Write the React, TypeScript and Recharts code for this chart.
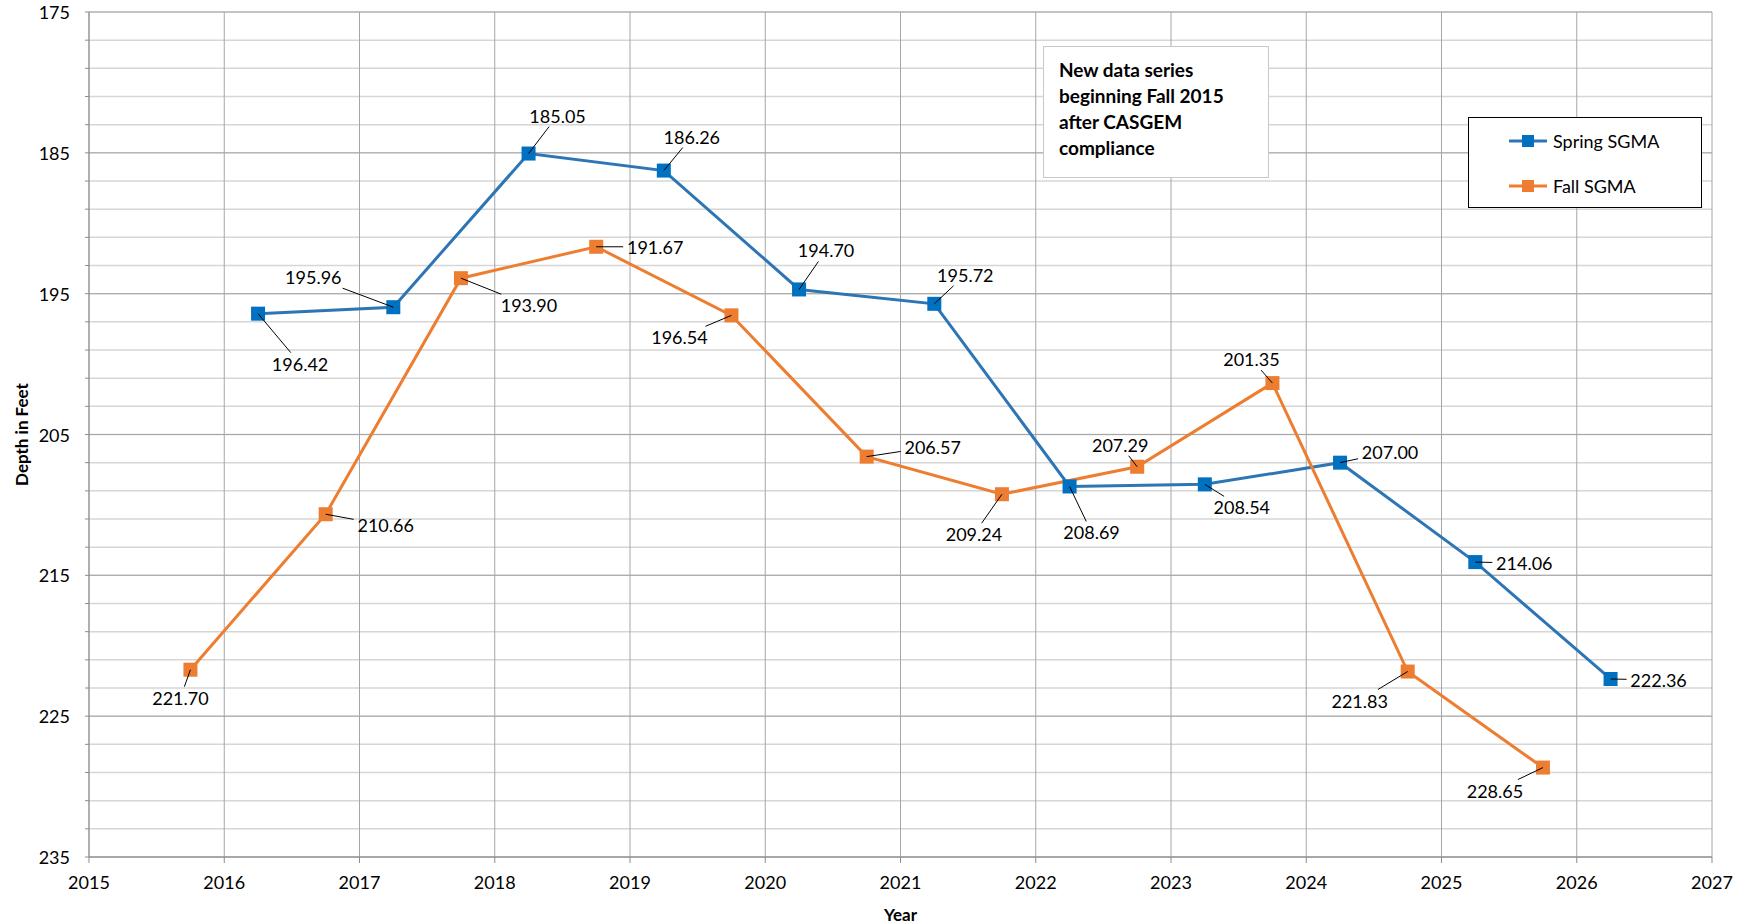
import {
  LineChart,
  Line,
  XAxis,
  YAxis,
  CartesianGrid,
  LabelList,
  Label,
} from 'recharts';

const springYears = [2016.25, 2017.25, 2018.25, 2019.25, 2020.25, 2021.25, 2022.25, 2023.25, 2024.25, 2025.25, 2026.25];
const springDepth = [196.42, 195.96, 185.05, 186.26, 194.7, 195.72, 208.69, 208.54, 207.0, 214.06, 222.36];

const fallYears = [2015.75, 2016.75, 2017.75, 2018.75, 2019.75, 2020.75, 2021.75, 2022.75, 2023.75, 2024.75, 2025.75];
const fallDepth = [221.7, 210.66, 193.9, 191.67, 196.54, 206.57, 209.24, 207.29, 201.35, 221.83, 228.65];

const yearTicks = [2015, 2016, 2017, 2018, 2019, 2020, 2021, 2022, 2023, 2024, 2025, 2026, 2027];
const depthTicks = Array.from({ length: 31 }, (_, i) => 175 + i * 2);
const majorDepthTicks = [175, 185, 195, 205, 215, 225, 235];

// where each data label sits relative to its point (px)
const springLabelOffsets = [
  [42, 50], [-80, -30], [29, -38], [28, -34], [27, -39], [31, -29],
  [22, 46], [37, 23], [50, -11], [49, 1], [48, 1],
];
const fallLabelOffsets = [
  [-10, 28], [60, 11], [68, 27], [59, 0], [-52, 22], [66, -10],
  [-28, 40], [-17, -22], [-21, -24], [-48, 29], [-48, 23],
];

const BLUE_LINE = '#2E75B6';
const BLUE = '#0070C0';
const ORANGE = '#ED7D31';
const FONT = 'Lato, "Open Sans", sans-serif';

const springData = springYears.map((year, i) => ({ year, depth: springDepth[i] }));
const fallData = fallYears.map((year, i) => ({ year, depth: fallDepth[i] }));

function squareDot(fill: string) {
  return (props: any) => {
    const { cx, cy, index } = props;
    if (cx == null || cy == null) return <g key={index} />;
    return <rect key={index} x={cx - 7} y={cy - 7} width={14} height={14} fill={fill} />;
  };
}

function leaderLabel(offsets: number[][]) {
  return (props: any) => {
    const { x, y, value, index } = props;
    if (value == null) return null;
    const [dx, dy] = offsets[index] || [0, -20];
    const cx = x + dx;
    const cy = y + dy;
    const hw = 32;
    const hh = 11;
    const t = Math.min(dx === 0 ? Infinity : hw / Math.abs(dx), dy === 0 ? Infinity : hh / Math.abs(dy));
    const ex = cx - dx * t;
    const ey = cy - dy * t;
    const len = Math.hypot(ex - x, ey - y);
    return (
      <g>
        {t < 1 && len > 10 && <line x1={x} y1={y} x2={ex} y2={ey} stroke="#000" strokeWidth={1} />}
        <text
          x={cx}
          y={cy}
          textAnchor="middle"
          dominantBaseline="central"
          fontFamily={FONT}
          fontSize={18}
          fill="#000"
        >
          {Number(value).toFixed(2)}
        </text>
      </g>
    );
  };
}

// axis ticks drawn at fixed distance from the plot edges
function DepthTick(props: any) {
  const { y, payload } = props;
  const v = payload.value;
  if ((v - 175) % 10 !== 0) return <g />;
  return (
    <text x={70} y={y} textAnchor="end" dominantBaseline="central" fontFamily={FONT} fontSize={18} fill="#000">
      {v}
    </text>
  );
}

function YearTick(props: any) {
  const { x, payload } = props;
  return (
    <text x={x} y={882} textAnchor="middle" dominantBaseline="central" fontFamily={FONT} fontSize={18} fill="#000">
      {payload.value}
    </text>
  );
}

function LegendBox() {
  const items = [
    { name: 'Spring SGMA', color: BLUE_LINE, marker: BLUE },
    { name: 'Fall SGMA', color: ORANGE, marker: ORANGE },
  ];
  return (
    <div
      style={{
        position: 'absolute',
        left: 1468,
        top: 117,
        width: 234,
        height: 91,
        border: '1.5px solid #000',
        background: '#fff',
        boxSizing: 'border-box',
        paddingTop: 11,
        fontFamily: FONT,
        fontSize: 18,
      }}
    >
      {items.map((it) => (
        <div key={it.name} style={{ display: 'flex', alignItems: 'center', height: 23, marginBottom: 22, paddingLeft: 38 }}>
          <svg width={44} height={16}>
            <line x1={2} y1={8} x2={40} y2={8} stroke={it.color} strokeWidth={3} />
            <rect x={15} y={2} width={12} height={12} fill={it.marker} />
          </svg>
          <span style={{ marginLeft: 2 }}>{it.name}</span>
        </div>
      ))}
    </div>
  );
}

export default function App() {
  return (
    <div style={{ position: 'absolute', left: 0, top: 0, width: 1744, height: 924, background: '#fff' }}>
      <LineChart width={1744} height={924} margin={{ top: 12, right: 32, bottom: 0, left: 0 }}>
        <CartesianGrid vertical={false} stroke="#d6d6d6" strokeWidth={1.5} />
        <CartesianGrid vertical={false} horizontalValues={majorDepthTicks} stroke="#a6a6a6" strokeWidth={1} />
        <CartesianGrid horizontal={false} stroke="#a6a6a6" strokeWidth={1} />
        <XAxis
          type="number"
          dataKey="year"
          domain={[2015, 2027]}
          ticks={yearTicks}
          allowDuplicatedCategory={false}
          height={67}
          tickSize={6}
          stroke="#8c8c8c"
          tick={<YearTick />}
        >
          <Label
            value="Year"
            position="insideBottom"
            offset={3}
            style={{ fontFamily: FONT, fontSize: 17, fontWeight: 'bold', fill: '#000' }}
          />
        </XAxis>
        <YAxis
          type="number"
          reversed
          domain={[175, 235]}
          ticks={depthTicks}
          interval={0}
          width={89}
          tickSize={4}
          stroke="#8c8c8c"
          tick={<DepthTick />}
        >
          <Label
            value="Depth in Feet"
            angle={-90}
            position="insideLeft"
            offset={22}
            style={{ fontFamily: FONT, fontSize: 17, fontWeight: 'bold', fill: '#000', textAnchor: 'middle' }}
          />
        </YAxis>
        <Line
          data={springData}
          dataKey="depth"
          name="Spring SGMA"
          stroke={BLUE_LINE}
          strokeWidth={3}
          dot={squareDot(BLUE)}
          activeDot={false}
          isAnimationActive={false}
        >
          <LabelList dataKey="depth" content={leaderLabel(springLabelOffsets)} />
        </Line>
        <Line
          data={fallData}
          dataKey="depth"
          name="Fall SGMA"
          stroke={ORANGE}
          strokeWidth={3}
          dot={squareDot(ORANGE)}
          activeDot={false}
          isAnimationActive={false}
        >
          <LabelList dataKey="depth" content={leaderLabel(fallLabelOffsets)} />
        </Line>
      </LineChart>
      <LegendBox />
      <div
        style={{
          position: 'absolute',
          left: 1043,
          top: 46,
          width: 226,
          height: 132,
          border: '1.5px solid #c8c8c8',
          background: '#fff',
          boxSizing: 'border-box',
          padding: '10px 10px 0 15px',
          fontFamily: FONT,
          fontSize: 19,
          fontWeight: 'bold',
          lineHeight: '26px',
          color: '#000',
        }}
      >
        New data series beginning Fall 2015 after CASGEM compliance
      </div>
    </div>
  );
}
